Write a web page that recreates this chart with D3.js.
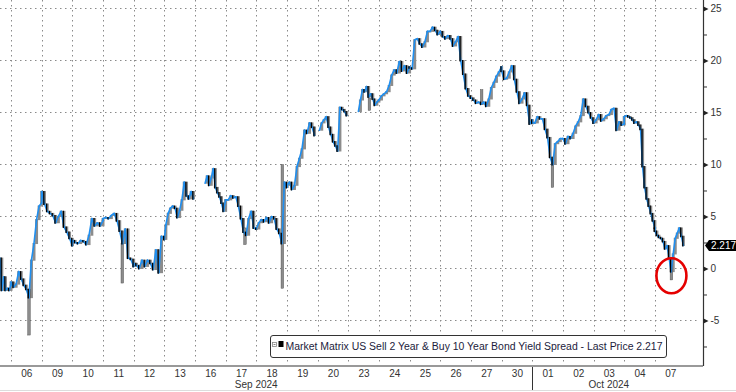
<!DOCTYPE html>
<html>
<head>
<meta charset="utf-8">
<script src="https://cdn.jsdelivr.net/npm/d3@7"></script>
<style>
  html, body { margin: 0; padding: 0; background: #fff; }
  svg { display: block; font-family: "Liberation Sans", Arial, sans-serif; }
</style>
</head>
<body>
<div id="chart"></div>
<script>
// trading days shown on the axis (index 0..21)
const dayLabels = ["06","09","10","11","12","13","16","17","18","19","20","23","24","25","26","27","30","01","02","03","04","07"];
const monthLabels = ["Sep 2024", "Oct 2024"];
const monthLabelDay = [8.0, 19.5];
const yTicks = [-5, 0, 5, 10, 15, 20, 25];
const yMinorTicks = [-7.5, -2.5, 2.5, 7.5, 12.5, 17.5, 22.5];

// intraday sessions: first one is the tail of 05 Sep (day index -1)
const sessionFrom = [0.64, 0, 0, 0, 0, 0, 0.05, 0.33, 0, 0, 0, 0.06, 0.33, 0, 0, 0, 0, 0, 0, 0, 0, 0, 0];
const sessionTo   = [1, 1, 1, 1, 1, 1, 0.95, 1, 1, 1, 0.9, 0.95, 1, 1, 1, 1, 1, 1, 1, 1, 1, 1, 0.93];
const sessionValues = [
  [1.0, -2.1, -0.8, -2.1, -1.9, -2.1, -1.6],
  [-1.3, -1.8, -1.5, -0.3, -1.0, -1.6, -2.0, -2.8, 0.8, 2.4, 4.7, 6.0, 6.3],
  [7.4, 6.2, 5.5, 5.3, 5.1, 4.4, 5.0, 5.5, 4.0, 3.5, 2.9, 2.2],
  [2.7, 2.5, 2.4, 2.7, 2.6, 2.3, 3.2, 4.8, 4.1, 4.4, 4.1, 4.6],
  [4.8, 4.9, 4.8, 5.1, 5.3, 4.6, 3.6, 2.4, 3.8, 1.0, 0.9, 0.2],
  [0.5, 0.3, 0.0, 0.8, 0.2, 0.8, 0.5, -0.1, 1.8, -0.4, 3.1, 2.8],
  [4.2, 5.3, 5.8, 6.0, 5.8, 4.9, 5.6, 6.6, 8.3, 7.0, 6.7, 7.4, 6.7],
  [8.2, 8.9, 8.0, 8.7, 9.6, 7.8, 7.3, 6.9, 6.3, 5.5, 6.6],
  [6.6, 6.6, 7.0, 6.8, 6.9, 6.0, 4.8, 3.5, 3.2, 4.8, 5.5, 3.9, 3.8],
  [3.8, 4.4, 4.7, 4.5, 4.9, 4.4, 5.0, 4.8, 3.8, 3.4, 2.4, 8.3, 7.8],
  [8.0, 8.3, 7.6, 8.0, 9.8, 10.6, 11.5, 13.3, 13.0, 14.0, 13.6, 12.8],
  [13.3, 14.0, 14.3, 14.6, 13.6, 12.9, 12.2, 11.8, 11.3, 15.5, 15.3, 15.1, 14.7],
  [15.1, 16.2, 17.2, 17.0, 17.5, 16.5, 16.8, 16.3, 15.7, 16.0, 16.2],
  [16.2, 16.6, 16.8, 17.0, 17.6, 18.6, 19.1, 18.8, 19.9, 19.0, 19.5, 18.8, 19.4],
  [19.3, 19.2, 22.0, 22.1, 21.6, 21.3, 21.8, 22.8, 22.8, 23.2, 22.9, 22.5, 22.8],
  [22.8, 22.3, 22.1, 22.4, 22.1, 21.4, 21.8, 22.3, 20.0, 18.7, 17.3, 16.6, 16.4],
  [16.4, 16.2, 15.9, 16.0, 15.8, 16.0, 15.6, 16.3, 17.4, 17.9, 18.5, 18.9, 19.4],
  [19.0, 18.2, 18.3, 18.9, 19.5, 18.2, 17.0, 15.9, 16.3, 16.9, 15.7, 13.9, 14.3],
  [14.0, 14.0, 14.6, 14.4, 14.4, 13.4, 12.6, 10.7, 10.0, 12.0, 12.2, 12.5, 12.5],
  [12.5, 12.0, 12.7, 12.5, 13.0, 13.7, 14.1, 14.7, 16.3, 15.6, 15.0, 14.5, 14.0],
  [14.0, 14.3, 14.8, 14.2, 14.4, 14.7, 14.8, 15.3, 15.4, 13.3, 14.1, 13.8, 13.9],
  [14.6, 14.7, 14.6, 14.5, 14.3, 14.0, 14.1, 13.8, 13.4, 9.8, 7.8, 6.7, 6.0, 5.3, 4.6, 3.9],
  [3.6, 3.2, 3.0, 2.9, 2.6, 1.9, 2.2, 1.0, -0.3, 1.4, 2.9, 3.4, 3.9, 3.1, 2.217]
];

// single-bar price spikes (day position, low, high)
const spikeDay  = [0.587, 3.63, 7.63, 8.85, 11.69, 15.35, 17.66, 21.54];
const spikeLow  = [-6.4, -1.4, 2.3, -1.9, 15.2, 15.8, 7.8, -1.1];
const spikeHigh = [-2.0, 2.4, 3.9, 10.0, 16.4, 17.2, 10.5, 0.9];

const lastPrice = 2.217;
const highlightDay = 21.54;
const highlightValue = -0.7;
const seriesName = "Market Matrix US Sell 2 Year & Buy 10 Year Bond Yield Spread - Last Price " + lastPrice;

class SpreadChart {
    constructor(){
        this.width = 736;
        this.height = 392;
        this.plotRight = 703;
        this.plotBottom = 366;
        this.blue = "#1f8ff0";
        this.gray = "#8c8c8c";
        this.gridColor = "#8a8a8a";
    }

    init(){
        this.svg = d3.select("#chart").append("svg")
            .attr("width", this.width).attr("height", this.height);
        this.xScale = d3.scaleLinear().domain([-0.3588, 22.57]).range([0, this.plotRight]);
        this.yScale = d3.scaleLinear().domain([-9.375, 25.817]).range([this.plotBottom, 0]);
        this.points = [];
        sessionValues.forEach((vals, s) => {
            let day = s - 1, n = vals.length;
            vals.forEach((v, i) => {
                let t = day + sessionFrom[s] + (sessionTo[s] - sessionFrom[s]) * i / (n - 1);
                this.points.push({t: t, v: v});
            });
        });
    }

    draw(){
        this.drawGrid();
        this.drawAxes();
        this.drawSeries();
        this.drawAnnotations();
        this.drawLegend();
    }

    drawGrid(){
        let g = this.svg.append("g").attr("class", "grid");
        g.selectAll(".hgrid").data(yTicks).enter().append("line")
            .attr("x1", 0).attr("x2", this.plotRight - 3)
            .attr("y1", d => Math.round(this.yScale(d)) + 0.5)
            .attr("y2", d => Math.round(this.yScale(d)) + 0.5)
            .attr("stroke", this.gridColor).attr("stroke-width", 1)
            .attr("stroke-dasharray", "1.5,3.5");
        g.selectAll(".vgrid").data(d3.range(dayLabels.length)).enter().append("line")
            .attr("x1", d => Math.round(this.xScale(d)) + 0.5)
            .attr("x2", d => Math.round(this.xScale(d)) + 0.5)
            .attr("y1", 0).attr("y2", this.plotBottom - 1)
            .attr("stroke", this.gridColor).attr("stroke-width", 1)
            .attr("stroke-dasharray", "1.5,3.5");
    }

    drawAxes(){
        // bottom axis with day labels
        let xAxis = d3.axisBottom(this.xScale)
            .tickValues(dayLabels.map((d, i) => i + 0.5))
            .tickFormat((d, i) => dayLabels[i])
            .tickSize(0).tickPadding(4);
        let gx = this.svg.append("g")
            .attr("transform", "translate(0," + this.plotBottom + ")")
            .call(xAxis);
        gx.select(".domain").attr("stroke", "#999").attr("stroke-width", 2.2)
            .attr("d", "M0,0H" + this.plotRight);
        gx.selectAll("text").attr("font-size", 10).attr("fill", "#333")
            .attr("font-family", "'Liberation Sans', Arial, sans-serif");

        // month separator and month labels
        let sepX = Math.round(this.xScale(17)) + 0.5;
        this.svg.append("line").attr("x1", sepX).attr("x2", sepX)
            .attr("y1", this.plotBottom + 1).attr("y2", this.height - 2)
            .attr("stroke", "#333").attr("stroke-width", 1);
        this.svg.selectAll(".month").data(monthLabels).enter().append("text")
            .attr("x", (d, i) => this.xScale(monthLabelDay[i]))
            .attr("y", 387.5)
            .attr("text-anchor", "middle").attr("font-size", 10).attr("fill", "#333")
            .text(d => d);
        this.svg.append("line").attr("x1", 0).attr("x2", this.width)
            .attr("y1", 390.5).attr("y2", 390.5).attr("stroke", "#ddd");

        // right axis
        let gyMinor = this.svg.append("g")
            .attr("transform", "translate(" + this.plotRight + ",0)")
            .call(d3.axisRight(this.yScale).tickValues(yMinorTicks).tickSize(4).tickFormat(""));
        gyMinor.select(".domain").remove();
        gyMinor.selectAll("line").attr("stroke", "#333");

        let yAxis = d3.axisRight(this.yScale).tickValues(yTicks).tickSize(0).tickPadding(7)
            .tickFormat(d => d < 0 ? "-" + Math.abs(d) : d);
        let gy = this.svg.append("g")
            .attr("transform", "translate(" + (this.plotRight + 0.5) + ",0)")
            .call(yAxis);
        gy.select(".domain").attr("stroke", "#333").attr("stroke-width", 1.2)
            .attr("d", "M0,0V" + this.plotBottom);
        gy.selectAll(".tick").append("path")
            .attr("d", "M0,-2.5L5,0L0,2.5Z").attr("fill", "#222");
        gy.selectAll("text").attr("font-size", 10).attr("fill", "#333")
            .attr("font-family", "'Liberation Sans', Arial, sans-serif");
    }

    drawSeries(){
        let g = this.svg.append("g").attr("class", "series");
        let segs = [];
        for(let i = 1; i < this.points.length; i++){
            let a = this.points[i-1], b = this.points[i];
            if(b.t - a.t > 0.12) continue;
            segs.push({a: a, b: b});
        }
        // gray bar bodies
        g.selectAll(".body").data(segs).enter().append("rect")
            .attr("x", d => this.xScale(d.b.t) - 1.5)
            .attr("width", 3)
            .attr("y", d => this.yScale(Math.max(d.a.v, d.b.v)) - 0.5)
            .attr("height", d => Math.max(1.5, Math.abs(this.yScale(d.a.v) - this.yScale(d.b.v)) + 1))
            .attr("fill", this.gray);
        // spikes
        g.selectAll(".spike").data(spikeDay).enter().append("rect")
            .attr("x", d => this.xScale(d) - 1.3)
            .attr("width", 2.6)
            .attr("y", (d, i) => this.yScale(spikeHigh[i]))
            .attr("height", (d, i) => this.yScale(spikeLow[i]) - this.yScale(spikeHigh[i]))
            .attr("fill", this.gray).attr("stroke", "#444").attr("stroke-width", 0.4);
        // blue price line
        g.selectAll(".seg").data(segs).enter().append("line")
            .attr("x1", d => this.xScale(d.a.t)).attr("y1", d => this.yScale(d.a.v))
            .attr("x2", d => this.xScale(d.b.t)).attr("y2", d => this.yScale(d.b.v))
            .attr("stroke", this.blue)
            .attr("stroke-width", 1.6)
            .attr("stroke-linecap", "round");
        // black wick on falling bars
        g.selectAll(".wick").data(segs.filter(d => d.b.v < d.a.v)).enter().append("line")
            .attr("x1", d => this.xScale(d.b.t) - 0.6).attr("x2", d => this.xScale(d.b.t) - 0.6)
            .attr("y1", d => this.yScale(d.a.v) - 0.5)
            .attr("y2", d => this.yScale(d.b.v) + 1)
            .attr("stroke", "#000").attr("stroke-width", 1.3);
    }

    drawAnnotations(){
        // highlight ring
        this.svg.append("ellipse")
            .attr("cx", this.xScale(highlightDay)).attr("cy", this.yScale(highlightValue))
            .attr("rx", 15).attr("ry", 17.5)
            .attr("fill", "none").attr("stroke", "#e50000").attr("stroke-width", 2.6);

        // last price tag
        let y = this.yScale(lastPrice);
        let x0 = this.plotRight + 2;
        this.svg.append("path")
            .attr("d", "M" + x0 + "," + y + "L" + (x0 + 4) + "," + (y - 5.5) + "H" + this.width +
                "V" + (y + 5.5) + "H" + (x0 + 4) + "Z")
            .attr("fill", "#000");
        this.svg.append("text")
            .attr("x", x0 + 6).attr("y", y + 3.6)
            .attr("font-size", 10).attr("fill", "#fff")
            .text(lastPrice.toFixed(3));
    }

    drawLegend(){
        let g = this.svg.append("g").attr("class", "legend");
        g.append("rect").attr("x", 270.5).attr("y", 335.5).attr("width", 396).attr("height", 22)
            .attr("rx", 2.5).attr("fill", "#fff").attr("stroke", "#333").attr("stroke-width", 1);
        g.append("rect").attr("x", 272.5).attr("y", 342.5).attr("width", 4).attr("height", 4)
            .attr("fill", "#fff").attr("stroke", "#888").attr("stroke-width", 0.8);
        g.append("line").attr("x1", 273.5).attr("x2", 275.5).attr("y1", 344.5).attr("y2", 344.5)
            .attr("stroke", "#666").attr("stroke-width", 0.8);
        g.append("rect").attr("x", 278.5).attr("y", 341).attr("width", 5).attr("height", 6)
            .attr("fill", "#000");
        g.append("text").attr("x", 285.5).attr("y", 350)
            .attr("font-size", 10).attr("fill", "#1c1c3c")
            .attr("textLength", 377).attr("lengthAdjust", "spacingAndGlyphs")
            .text(seriesName);
    }
}

const chart = new SpreadChart();
chart.init();
chart.draw();
</script>
</body>
</html>
